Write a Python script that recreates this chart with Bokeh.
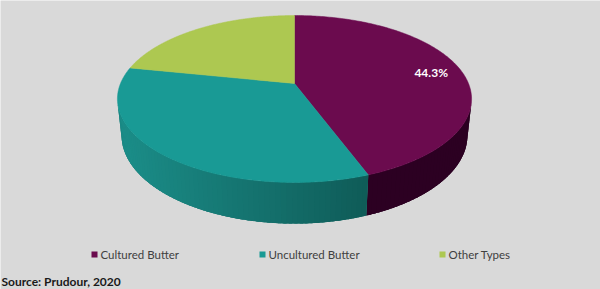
import math
import numpy as np
from bokeh.plotting import figure
from bokeh.models import Range1d
from bokeh.core.properties import value
from bokeh.embed import file_html
from bokeh.resources import INLINE

# ---- data ----
categories = ["Cultured Butter", "Uncultured Butter", "Other Types"]
shares = [44.3, 33.9, 21.8]
shown_labels = ["44.3%", None, None]
source_text = "Source: Prudour, 2020"

# ---- styles ----
top_colors = ["#6b0b4e", "#199a95", "#adc851"]
side_left_colors = ["#2c0022", "#1b8e89", "#7d9138"]
side_right_colors = ["#2c0022", "#0a4643", "#5a6a28"]
bg = "#d9d9d9"

W, H = 600, 289
p = figure(width=W, height=H, output_backend="svg", toolbar_location=None,
           x_range=Range1d(0, W), y_range=Range1d(H, 0), min_border=0)
p.axis.visible = False
p.grid.visible = False
p.outline_line_color = None
p.background_fill_color = bg
p.border_fill_color = bg

# ---- 3D perspective projection of a disk ----
CX, CY = 294.0, 83.0
PHI = math.radians(27.6)
DIST = 4.776
FOC = 831.0
THICK = 0.238


def proj(theta_deg, r=1.0, h=0.0):
    th = math.radians(theta_deg)
    X = r * math.sin(th)
    Z = -r * math.cos(th)
    Y = -h
    v0 = X
    v1 = Y - DIST * math.sin(PHI)
    v2 = Z - DIST * math.cos(PHI)
    xc = v0
    yc = v1 * math.cos(PHI) - v2 * math.sin(PHI)
    zc = -v1 * math.sin(PHI) - v2 * math.cos(PHI)
    return CX + FOC * xc / zc, CY - FOC * yc / zc


total = sum(shares)
bounds = [0.0]
for s in shares:
    bounds.append(bounds[-1] + 360.0 * s / total)

# visible side range (front-facing)
cos_lim = -1.0 / (DIST * math.cos(PHI))
vis_a = math.degrees(math.acos(cos_lim))
vis_b = 360.0 - vis_a


def hex2rgb(h):
    h = h.lstrip("#")
    return tuple(int(h[i:i + 2], 16) for i in (0, 2, 4))


def rgb2hex(c):
    return "#%02x%02x%02x" % tuple(int(round(v)) for v in c)


def side_poly(a, b, n=60):
    ths = np.linspace(a, b, n)
    top = [proj(t) for t in ths]
    bot = [proj(t, h=THICK) for t in ths[::-1]]
    pts = top + bot
    return [q[0] for q in pts], [q[1] for q in pts]


# sides
xl, xr = proj(vis_b)[0], proj(vis_a)[0]
for i in range(len(shares)):
    a = max(bounds[i], vis_a)
    b = min(bounds[i + 1], vis_b)
    if b <= a:
        continue
    c1 = hex2rgb(side_left_colors[i])
    c2 = hex2rgb(side_right_colors[i])
    # base layer in the mid colour, to hide seams
    bx, by = side_poly(a, b)
    mid = rgb2hex([(c1[j] + c2[j]) / 2 for j in range(3)])
    p.patch(bx, by, fill_color=mid, line_color=None)
    n = max(2, int((b - a) / 1.5))
    ths = np.linspace(a, b, n + 1)
    step = ths[1] - ths[0]
    xs_list, ys_list, cols = [], [], []
    for k in range(n):
        t0 = ths[k]
        t1 = min(ths[k + 1] + step * 0.6, b)
        sx, sy = side_poly(t0, t1, n=4)
        xm = sum(sx) / len(sx)
        t = (xm - xl) / (xr - xl)
        col = rgb2hex([c1[j] + (c2[j] - c1[j]) * t for j in range(3)])
        xs_list.append(sx)
        ys_list.append(sy)
        cols.append(col)
    p.patches(xs_list, ys_list, fill_color=cols, line_color=None)

# tops
for i in range(len(shares)):
    ths = np.linspace(bounds[i], bounds[i + 1], 200)
    pts = [proj(0, r=0.0)] + [proj(t) for t in ths]
    p.patch([q[0] for q in pts], [q[1] for q in pts], fill_color=top_colors[i],
            line_color=top_colors[i], line_width=0.5)

# data label
for i, lab in enumerate(shown_labels):
    if lab:
        mid = (bounds[i] + bounds[i + 1]) / 2
        lx, ly = proj(mid, r=0.82)
        p.text([lx], [ly], text=[lab], text_color="white", text_font=value("Lato"),
               text_font_style="bold", text_font_size="12px",
               text_align="center", text_baseline="middle")

# legend
leg_x = [91, 259, 439]
leg_y = 254
for i, cat in enumerate(categories):
    p.rect([leg_x[i] + 3], [leg_y], width=6, height=6, fill_color=top_colors[i], line_color=None)
    p.text([leg_x[i] + 9], [leg_y], text=[cat], text_color="#404040", text_font=value("Lato"),
           text_font_size="11.5px", text_align="left", text_baseline="middle")

# source
p.text([1], [281], text=[source_text], text_color="#1a1a1a", text_font=value("Lato"),
       text_font_style="bold", text_font_size="12px", text_align="left", text_baseline="middle")

open("out.html", "w").write(file_html(p, INLINE))
